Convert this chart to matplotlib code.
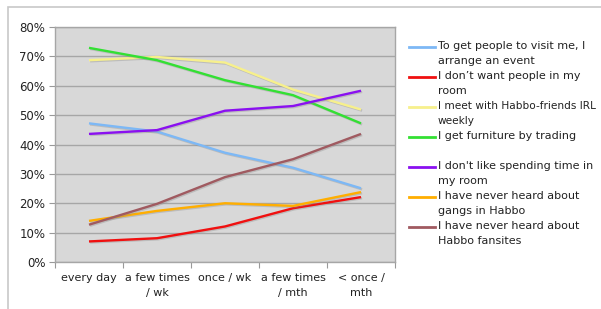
import matplotlib
matplotlib.use("Agg")
import matplotlib.pyplot as plt
import matplotlib.patheffects as pe
from matplotlib.lines import Line2D
from matplotlib.patches import Rectangle
import numpy as np

categories = ["every day", "a few times\n/ wk", "once / wk", "a few times\n/ mth", "< once /\nmth"]

visit_event = [47.2, 44.4, 37.2, 32.1, 25.1]
no_people = [7.0, 8.1, 12.1, 18.3, 22.1]
meet_irl = [68.7, 69.8, 67.9, 58.7, 51.9]
furniture = [72.9, 68.7, 61.9, 56.8, 47.2]
dislike_room = [43.6, 44.9, 51.5, 53.1, 58.3]
no_gangs = [14.0, 17.4, 20.0, 19.1, 23.8]
no_fansites = [12.7, 19.8, 28.9, 35.0, 43.6]

series = [
    ("To get people to visit me, I\narrange an event", visit_event, "#7db8f5"),
    ("I don\u2019t want people in my\nroom", no_people, "#f01010"),
    ("I meet with Habbo-friends IRL\nweekly", meet_irl, "#f7f08c"),
    ("I get furniture by trading", furniture, "#33e033"),
    ("I don't like spending time in\nmy room", dislike_room, "#8a10f0"),
    ("I have never heard about\ngangs in Habbo", no_gangs, "#ffae00"),
    ("I have never heard about\nHabbo fansites", no_fansites, "#a05a60"),
]

plt.rcParams.update({"font.family": "DejaVu Sans", "font.size": 8})

W, H = 601, 309
fig = plt.figure(figsize=(W / 100, H / 100), dpi=100)

# outer frame of the chart
fig.patches.append(Rectangle((8 / W, -0.1), 1.1, (H - 7) / H + 0.1,
                             transform=fig.transFigure, fill=False,
                             edgecolor="#c8c8c8", lw=1.2))

ax = fig.add_axes([55 / W, (H - 262) / H, (395 - 55) / W, (262 - 27) / H])
ax.set_facecolor("#d8d8d8")
x = np.arange(len(categories)) + 0.5
shadow = [pe.SimpleLineShadow(offset=(0.8, -0.8), shadow_color="#888888", alpha=0.35), pe.Normal()]
for label, vals, color in series:
    ax.plot(x, vals, color=color, lw=1.7, solid_capstyle="butt", path_effects=shadow)

ax.set_xlim(0, len(categories))
ax.set_ylim(0, 80)
ax.set_yticks(np.arange(0, 81, 10))
ax.set_yticklabels([f"{v}%" for v in range(0, 81, 10)], fontsize=8.5, color="#222222")
ax.set_xticks(np.arange(len(categories) + 1))
ax.set_xticklabels([])
ax.set_xticks(x, minor=True)
ax.set_xticklabels(categories, minor=True, fontsize=8, color="#222222")
for t in ax.get_xticklabels(minor=True):
    t.set_linespacing(1.6)
ax.tick_params(axis="x", which="minor", length=0, pad=8)
ax.tick_params(axis="x", which="major", length=4, color="#999999")
ax.tick_params(axis="y", length=4, color="#999999", pad=3)
ax.grid(axis="y", color="#a6a6a6", lw=1)
ax.set_axisbelow(True)
for s in ax.spines.values():
    s.set_color("#a6a6a6")
    s.set_linewidth(1)

# legend drawn by hand to match the spacing
y0 = 47
for i, (label, vals, color) in enumerate(series):
    yy = 1 - (y0 + 30 * i) / H
    fig.add_artist(Line2D([409 / W, 435 / W], [yy, yy], transform=fig.transFigure,
                          color=color, lw=2))
    size = 7.6 if i == 2 else 8
    fig.text(438 / W, yy + 6 / H, label, fontsize=size, va="top", ha="left",
             color="#222222", linespacing=1.6)

fig.savefig("out.png", dpi=100)
